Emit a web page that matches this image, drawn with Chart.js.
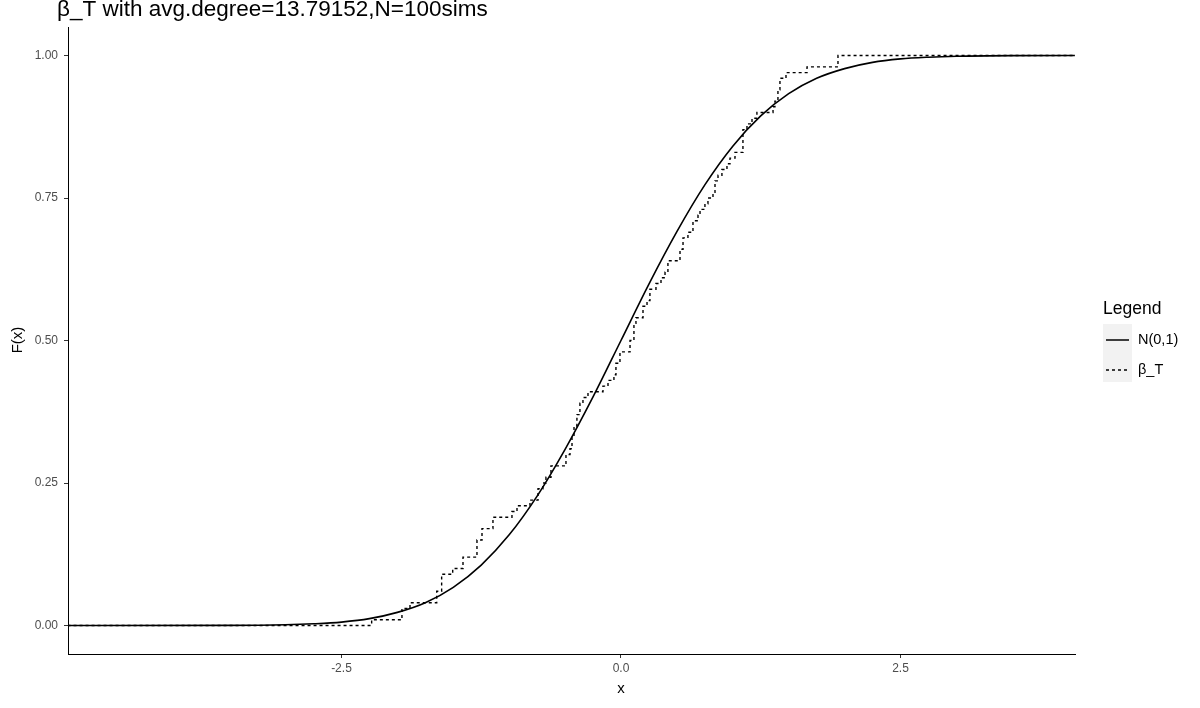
<!DOCTYPE html>
<html><head><meta charset="utf-8">
<script src="https://cdn.jsdelivr.net/npm/chart.js@4/dist/chart.umd.min.js"></script>
<style>html,body{margin:0;padding:0;background:#fff;overflow:hidden}#wrap{width:1200px;height:708px;position:relative}</style>
</head><body><div id="wrap"><canvas id="c" width="1200" height="708"></canvas></div>
<script>
const chartTitle = "β_T with avg.degree=13.79152,N=100sims";
const legendTitle = "Legend";
const seriesNames = ["N(0,1)", "β_T"];
const xAxisTitle = "x";
const yAxisTitle = "F(x)";
const xTicks = [-2.5, 0, 2.5];
const yTicks = [0, 0.25, 0.5, 0.75, 1];

// N(0,1) curve
const normX = [-4.95, -3.5, -3.0, -2.75, -2.5, -2.25, -2.0, -1.75, -1.5, -1.25, -1.0, -0.75, -0.5, -0.25, 0.0, 0.25, 0.5, 0.75, 1.0, 1.25, 1.5, 1.75, 2.0, 2.25, 2.5, 2.75, 3.0, 3.5, 4.06];
const normF = [0, 0.0002, 0.0013, 0.003, 0.006, 0.012, 0.023, 0.040, 0.067, 0.106, 0.159, 0.227, 0.309, 0.401, 0.5, 0.599, 0.691, 0.773, 0.841, 0.894, 0.933, 0.960, 0.977, 0.988, 0.994, 0.997, 0.9987, 0.9998, 1.0];

// β_T empirical CDF: jump locations and levels after each jump
const ecdfX = [-4.95, -2.230, -1.959, -1.887, -1.648, -1.604, -1.505, -1.413, -1.288, -1.243, -1.145, -0.975, -0.930, -0.814, -0.742, -0.698, -0.671, -0.626, -0.492, -0.456, -0.438, -0.420, -0.394, -0.367, -0.340, -0.295, -0.161, -0.116, -0.063, -0.045, -0.009, 0.081, 0.116, 0.134, 0.197, 0.233, 0.259, 0.313, 0.358, 0.394, 0.420, 0.528, 0.555, 0.599, 0.644, 0.689, 0.707, 0.751, 0.778, 0.823, 0.841, 0.868, 0.903, 0.948, 0.975, 1.020, 1.091, 1.127, 1.172, 1.216, 1.360, 1.377, 1.404, 1.422, 1.476, 1.664, 1.941, 4.06];
const ecdfF = [0, 0.01, 0.03, 0.04, 0.06, 0.09, 0.10, 0.12, 0.15, 0.17, 0.19, 0.20, 0.21, 0.22, 0.24, 0.25, 0.26, 0.28, 0.30, 0.31, 0.33, 0.35, 0.37, 0.39, 0.40, 0.41, 0.42, 0.43, 0.44, 0.46, 0.48, 0.50, 0.53, 0.54, 0.56, 0.57, 0.59, 0.60, 0.61, 0.62, 0.64, 0.66, 0.68, 0.69, 0.71, 0.72, 0.73, 0.74, 0.75, 0.76, 0.78, 0.79, 0.80, 0.81, 0.82, 0.83, 0.87, 0.88, 0.89, 0.90, 0.91, 0.92, 0.94, 0.96, 0.97, 0.98, 1.00, 1.00];

const FONT = "'Liberation Sans', Arial, sans-serif";

const overlay = {
  id: 'overlay',
  afterDraw(chart) {
    const ctx = chart.ctx;
    ctx.save();
    ctx.fillStyle = '#000';
    ctx.textBaseline = 'alphabetic';
    ctx.textAlign = 'left';
    ctx.font = '22.5px ' + FONT;
    ctx.fillText(chartTitle, 57, 16);
    // axis titles
    ctx.font = '15px ' + FONT;
    ctx.textAlign = 'center';
    ctx.textBaseline = 'middle';
    ctx.fillText(xAxisTitle, 621, 689);
    ctx.save();
    ctx.translate(18, 340);
    ctx.rotate(-Math.PI / 2);
    ctx.fillText(yAxisTitle, 0, 0);
    ctx.restore();
    // legend
    ctx.textAlign = 'left';
    ctx.font = '17.5px ' + FONT;
    ctx.fillText(legendTitle, 1103, 309);
    ctx.fillStyle = '#f2f2f2';
    ctx.fillRect(1103, 324, 29, 58);
    ctx.strokeStyle = '#000';
    ctx.lineWidth = 1.5;
    ctx.beginPath(); ctx.moveTo(1106, 340); ctx.lineTo(1129, 340); ctx.stroke();
    ctx.setLineDash([3, 3]);
    ctx.beginPath(); ctx.moveTo(1106, 370); ctx.lineTo(1129, 370); ctx.stroke();
    ctx.setLineDash([]);
    ctx.fillStyle = '#000';
    ctx.font = '14.5px ' + FONT;
    ctx.fillText(seriesNames[0], 1138, 340);
    ctx.fillText(seriesNames[1], 1138, 370);
    ctx.restore();
  }
};

const normData = normX.map((x, i) => ({x, y: normF[i]}));
const ecdfData = ecdfX.map((x, i) => ({x, y: ecdfF[i]}));

new Chart(document.getElementById('c'), {
  type: 'line',
  data: {
    datasets: [
      { label: seriesNames[0], data: normData, borderColor: '#000', borderWidth: 1.6, pointRadius: 0, fill: false, cubicInterpolationMode: 'monotone' },
      { label: seriesNames[1], data: ecdfData, borderColor: '#000', borderWidth: 1.4, borderDash: [3, 3], pointRadius: 0, fill: false, stepped: 'before' }
    ]
  },
  options: {
    responsive: false,
    devicePixelRatio: 1,
    animation: false,
    layout: { padding: { left: 0, right: 125, top: 27, bottom: 0 } },
    plugins: { legend: { display: false }, tooltip: { enabled: false }, title: { display: false } },
    scales: {
      x: {
        type: 'linear', min: -4.946, max: 4.061,
        afterFit(s) { s.height = 54; },
        afterBuildTicks(s) { s.ticks = xTicks.map(v => ({value: v})); },
        grid: { drawOnChartArea: false, drawTicks: true, tickLength: 4, color: '#333', tickWidth: 1 },
        border: { display: true, color: '#000', width: 1 },
        ticks: { color: '#4d4d4d', font: { family: FONT, size: 12 }, padding: 3, callback: v => v.toFixed(1), maxRotation: 0 }
      },
      y: {
        type: 'linear', min: -0.05, max: 1.05,
        afterFit(s) { s.width = 68; },
        afterBuildTicks(s) { s.ticks = yTicks.map(v => ({value: v})); },
        grid: { drawOnChartArea: false, drawTicks: true, tickLength: 4, color: '#333', tickWidth: 1 },
        border: { display: true, color: '#000', width: 1 },
        ticks: { color: '#4d4d4d', font: { family: FONT, size: 12 }, padding: 6, callback: v => v.toFixed(2) }
      }
    }
  },
  plugins: [overlay]
});
</script>
</body></html>
